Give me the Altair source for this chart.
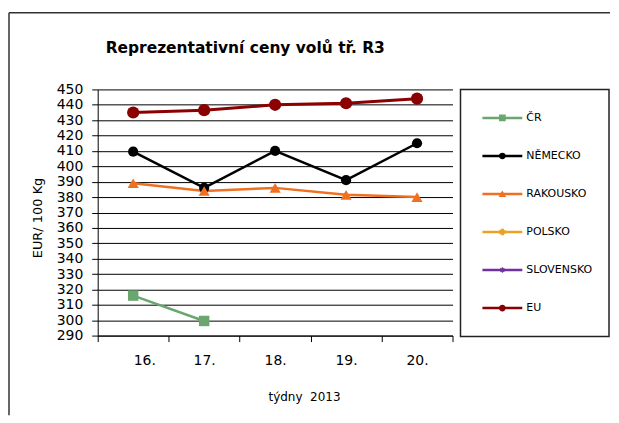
import altair as alt
import pandas as pd

# ---------------- data ----------------
weeks = [16, 17, 18, 19, 20]
countries = ["ČR", "NĚMECKO", "RAKOUSKO", "POLSKO", "SLOVENSKO", "EU"]
cr = [316, 299.5, None, None, None]
nemecko = [409.5, 386, 410, 391, 415]
rakousko = [389, 384, 386, 381.5, 380]
polsko = [None, None, None, None, None]
slovensko = [None, None, None, None, None]
eu = [435, 436.5, 440, 441, 444]
y_ticks = list(range(290, 451, 10))

series = [cr, nemecko, rakousko, polsko, slovensko, eu]
colors = ["#6aa66e", "#000000", "#f07022", "#eaa225", "#7030a0", "#8b0000"]
asterisk = "M-1,0L1,0M0,-1L0,1M-0.7,-0.7L0.7,0.7M-0.7,0.7L0.7,-0.7"
shapes = ["square", "circle", "triangle-up", "cross", asterisk, "circle"]
marker_sizes = [110, 105, 125, 60, 60, 150]
line_widths = [2.5, 2.5, 2.5, 2.5, 2.5, 3]

rows = []
for c, vals in zip(countries, series):
    for w, v in zip(weeks, vals):
        if v is not None:
            rows.append({"week": w, "price": v, "country": c})
df = pd.DataFrame(rows)

FONT = "DejaVu Sans"
W, H = 356, 247

color_scale = alt.Scale(domain=countries, range=colors)
shape_scale = alt.Scale(domain=countries, range=shapes)

x_bounds = [w - 0.5 for w in weeks] + [weeks[-1] + 0.5]
last_bound = x_bounds[-1]

x_enc = alt.X(
    "week:Q",
    scale=alt.Scale(domain=[x_bounds[0], last_bound], nice=False, zero=False),
    axis=alt.Axis(
        values=x_bounds,
        labelExpr=f"datum.value < {last_bound} ? format(datum.value + 0.5, 'd') + '.' : ''",
        labelOffset=W / len(weeks) / 2,
        labelFont=FONT, labelFontSize=14, labelColor="#000",
        labelPadding=12,
        tickSize=6, tickColor="#000", tickWidth=1,
        domainColor="#000", domainWidth=1,
        grid=False,
        title="týdny\u00a0 2013",
        titleFont=FONT, titleFontSize=12, titleFontWeight="normal", titleColor="#000",
        titleX=207, titleY=61, titleAlign="center", titleBaseline="middle",
    ),
)
y_enc = alt.Y(
    "price:Q",
    scale=alt.Scale(domain=[290, 450], nice=False, zero=False),
    axis=alt.Axis(
        values=y_ticks,
        labelFont=FONT, labelFontSize=14, labelColor="#000",
        labelOverlap=False, labelPadding=9,
        tickSize=6, tickColor="#000",
        domainColor="#000",
        grid=True, gridColor="#000", gridWidth=1, gridOpacity=1,
        title="EUR/ 100 Kg",
        titleFont=FONT, titleFontSize=13, titleFontWeight="normal", titleColor="#000",
        titleX=-60, titleY=H / 2 + 5, titleAngle=270,
        titleAlign="center", titleBaseline="middle",
    ),
)

one = alt.Data(values=[{}])
frame_left = alt.Chart(one).mark_rule(color="#333", strokeWidth=1.5).encode(
    x=alt.value(-89), y=alt.value(-77), y2=alt.value(327)
)
frame_top = alt.Chart(one).mark_rule(color="#333", strokeWidth=1.5).encode(
    x=alt.value(-89), x2=alt.value(514), y=alt.value(-77)
)

layers = [frame_left, frame_top]
present = set(df["country"])
for c, lw in zip(countries, line_widths):
    if c not in present:
        continue
    layers.append(
        alt.Chart(df).transform_filter(alt.datum.country == c)
        .mark_line(strokeWidth=lw)
        .encode(x=x_enc, y=y_enc,
                color=alt.Color("country:N", scale=color_scale, legend=None))
    )
for c, s in zip(countries, marker_sizes):
    if c not in present:
        continue
    layers.append(
        alt.Chart(df).transform_filter(alt.datum.country == c)
        .mark_point(filled=True, opacity=1, size=s)
        .encode(x=x_enc, y=y_enc,
                color=alt.Color("country:N", scale=color_scale, legend=None),
                shape=alt.Shape("country:N", scale=shape_scale, legend=None))
    )

main = alt.layer(*layers).properties(
    width=W, height=H,
    title=alt.TitleParams(
        "Reprezentativní ceny volů tř. R3",
        font=FONT, fontSize=15.5, fontWeight="bold", color="#000",
        anchor="middle", frame="group", dx=-30, offset=-45,
    ),
)

# ---------------- legend ----------------
leg_df = pd.DataFrame({"country": countries})
ly = alt.Y("country:N", scale=alt.Scale(domain=countries, padding=0.5), axis=None)
leg_lines = alt.Chart(leg_df).mark_rule(strokeWidth=2.5).encode(
    x=alt.value(22), x2=alt.value(62), y=ly,
    color=alt.Color("country:N", scale=color_scale, legend=None),
)
leg_pts = alt.Chart(leg_df).mark_point(filled=True, opacity=1, size=30, strokeWidth=1.2).encode(
    x=alt.value(42), y=ly,
    color=alt.Color("country:N", scale=color_scale, legend=None),
    stroke=alt.Stroke("country:N", scale=color_scale, legend=None),
    shape=alt.Shape("country:N", scale=shape_scale, legend=None),
)
leg_txt = alt.Chart(leg_df).mark_text(
    align="left", baseline="middle", font=FONT, fontSize=11, color="#000"
).encode(x=alt.value(66), y=ly, text="country:N")

legend = alt.layer(leg_lines, leg_pts, leg_txt).properties(
    width=149, height=248,
    view=alt.ViewBackground(stroke="#222", strokeWidth=1.5),
)

chart = alt.hconcat(main, legend, spacing=8, bounds="flush").properties(
    padding={"left": 0, "top": 3, "right": 0, "bottom": 0},
    background="white",
).configure_view(stroke=None)

chart.save("out.html", embed_options={"renderer": "svg", "actions": False})
